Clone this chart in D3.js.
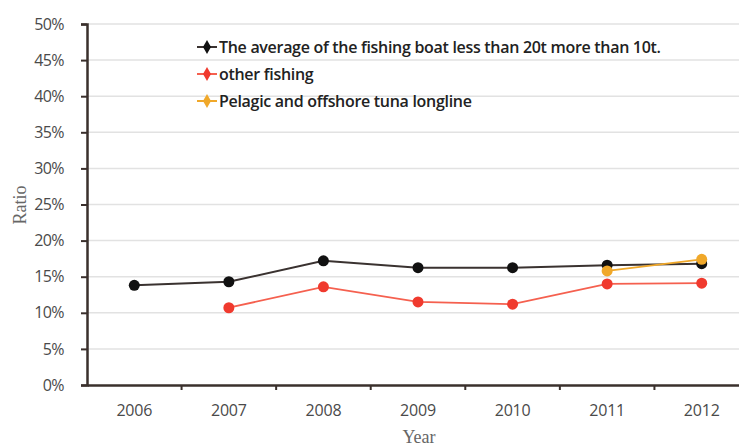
<!DOCTYPE html>
<html><head><meta charset="utf-8">
<script src="https://cdn.jsdelivr.net/npm/d3@7"></script>
<style>body{margin:0;background:#fff}svg{display:block}</style>
</head><body>
<script>
const years = ["2006","2007","2008","2009","2010","2011","2012"];
const avgBoat = [13.8,14.3,17.2,16.25,16.25,16.6,16.8];
const otherFishing = [null,10.7,13.6,11.5,11.2,14.0,14.1];
const tunaLongline = [null,null,null,null,null,15.8,17.4];
const yTicks = [0,5,10,15,20,25,30,35,40,45,50];
const seriesNames = ["The average of the fishing boat less than 20t more than 10t.","other fishing","Pelagic and offshore tuna longline"];
const seriesColors = ["#111111","#f03a2e","#f0a82a"];
const lineColors = ["#3a3230","#f5604f","#f0a82a"];

const W=739,H=448;
const svg=d3.select("body").append("svg").attr("width",W).attr("height",H);
const x=d3.scaleBand().domain(years).range([87,749]);
const y=d3.scaleLinear().domain([0,50]).range([385,24]);

// grid
svg.append("g").selectAll("line").data(yTicks.slice(1)).join("line")
  .attr("x1",88).attr("x2",W).attr("y1",d=>y(d)).attr("y2",d=>y(d))
  .attr("stroke","#e2e2e2").attr("stroke-width",1.5);

const tickFont=(g,fs,ls)=>g.selectAll("text").attr("font-family","Open Sans, sans-serif").attr("font-size",fs)
  .attr("font-weight",500).attr("fill","#4a4a4a").attr("letter-spacing",ls);

// y axis
const ya=svg.append("g").attr("transform","translate(87,0)")
  .call(d3.axisLeft(y).tickValues(yTicks).tickFormat(d=>d+"%").tickSize(6).tickPadding(17));
ya.select(".domain").attr("stroke","#3a302c").attr("stroke-width",2.5);
ya.selectAll(".tick line").attr("stroke","#3a302c").attr("stroke-width",2);
tickFont(ya,16,"-0.6");

// x axis
const xa=svg.append("g").attr("transform","translate(0,385)")
  .call(d3.axisBottom(x).tickSize(0).tickPadding(20));
xa.select(".domain").attr("stroke","#3a302c").attr("stroke-width",2.5);
tickFont(xa,16,"-0.2");
xa.selectAll(".tick line").remove();
svg.append("g").selectAll("line").data(years.slice(1)).join("line")
  .attr("x1",d=>x(d)).attr("x2",d=>x(d)).attr("y1",385).attr("y2",390)
  .attr("stroke","#3a302c").attr("stroke-width",2);

// titles
svg.append("text").attr("x",419).attr("y",443).attr("text-anchor","middle")
  .attr("font-family","Liberation Serif, serif").attr("font-size",18).attr("fill","#666").text("Year");
svg.append("text").attr("transform","translate(26,205) rotate(-90)").attr("text-anchor","middle")
  .attr("font-family","Liberation Serif, serif").attr("font-size",18).attr("fill","#666").text("Ratio");

// series
const data=[avgBoat,otherFishing,tunaLongline];
const line=d3.line().defined(d=>d.v!=null).x(d=>x(d.k)+x.bandwidth()/2).y(d=>y(d.v));
data.forEach((arr,i)=>{
  const pts=years.map((k,j)=>({k,v:arr[j]}));
  svg.append("path").datum(pts).attr("d",line).attr("fill","none")
    .attr("stroke",lineColors[i]).attr("stroke-width",i==0?2:1.8);
  svg.append("g").selectAll("circle").data(pts.filter(d=>d.v!=null)).join("circle")
    .attr("cx",d=>x(d.k)+x.bandwidth()/2).attr("cy",d=>y(d.v)).attr("r",5.5)
    .attr("fill",seriesColors[i]);
});

// legend
const lg=svg.append("g");
seriesNames.forEach((n,i)=>{
  const yy=47+i*27;
  const g=lg.append("g").attr("transform",`translate(207,${yy})`);
  g.append("line").attr("x1",-10).attr("x2",10).attr("stroke",lineColors[i]).attr("stroke-width",2);
  g.append("path").attr("d",d3.symbol(d3.symbolDiamond,55)()).attr("fill",seriesColors[i]);
  g.append("text").attr("x",12).attr("y",5.5).attr("font-family","Open Sans, sans-serif")
    .attr("font-size",16).attr("font-weight",600).attr("fill","#222").attr("letter-spacing","-0.3").text(n);
});
</script>
</body></html>
